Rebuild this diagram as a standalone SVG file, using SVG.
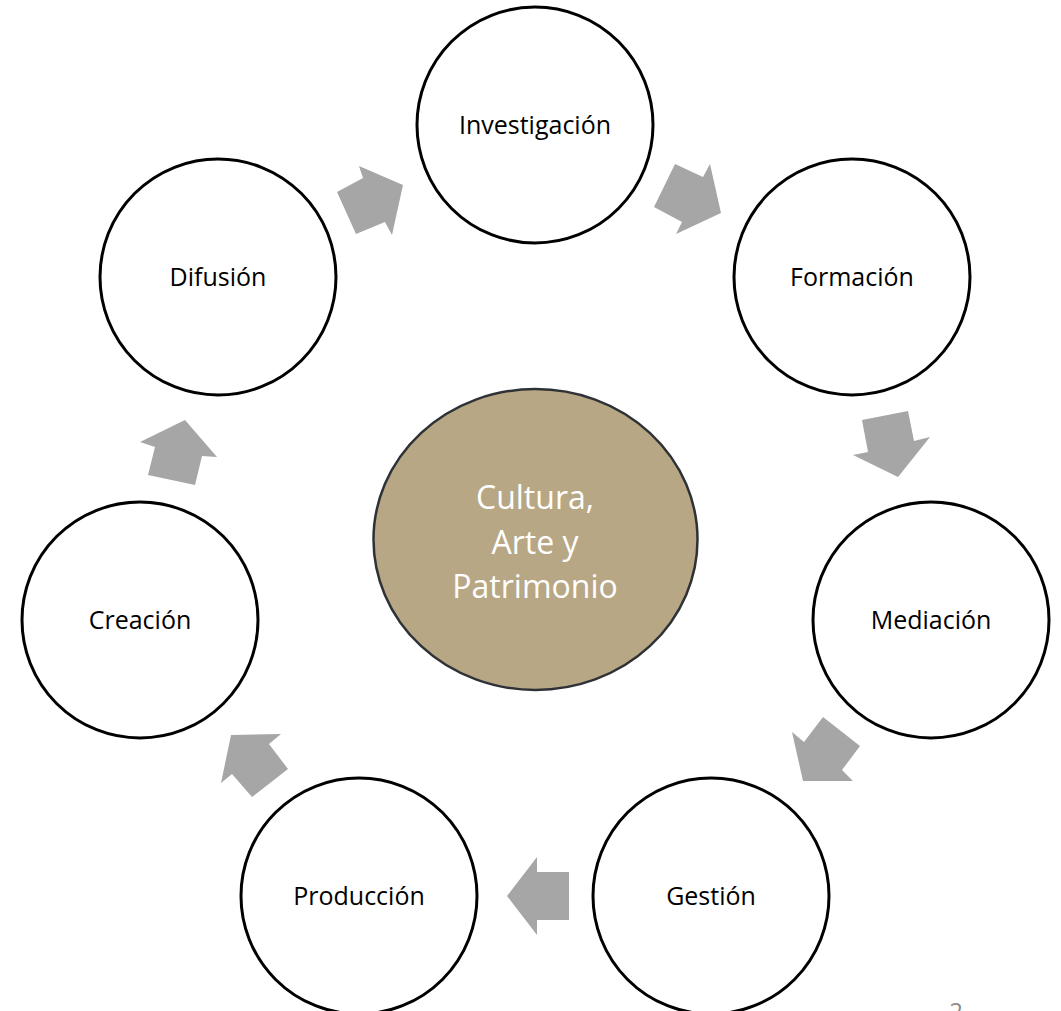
<svg xmlns="http://www.w3.org/2000/svg" width="1061" height="1011" viewBox="0 0 1061 1011">
<style>
.node{fill:#ffffff;stroke:#000000;stroke-width:3}
.lbl{font-family:"Open Sans","Liberation Sans",sans-serif;font-size:25px;fill:#000000;text-anchor:middle}
.arrow{fill:#a6a6a6;stroke:none}
.ctr{fill:#b8a784;stroke:#2e3236;stroke-width:2.5}
.ctrl{font-family:"Open Sans","Liberation Sans",sans-serif;font-size:32px;fill:#ffffff;text-anchor:middle}
</style>
<rect width="1061" height="1011" fill="#ffffff"/>
<g id="connectors">
<polygon class="arrow" points="403,185 392,235 385,222 356,234 337,192 363,178 359,166"/>
<polygon class="arrow" points="675,164 703,177 710,164 721,213 676,234 682,222 654,207"/>
<polygon class="arrow" points="862,420 908,411 914,441 930,437 898,477 853,455 868,452"/>
<polygon class="arrow" points="792,732 804,742 823,717 860,746 842,770 853,781 803,781"/>
<polygon class="arrow" points="569,872 569,920 537,920 537,935 507,896 537,857 537,872"/>
<polygon class="arrow" points="231,735 281,734 269,744 288,769 252,797 232,774 221,783"/>
<polygon class="arrow" points="140,442 185,420 217,457 202,456 195,485 148,475 155,447"/>
</g>
<g id="center">
<ellipse class="ctr" cx="535.5" cy="539.5" rx="162" ry="150.5"/>
<text class="ctrl" x="535" y="509">Cultura,</text>
<text class="ctrl" x="535" y="554">Arte y</text>
<text class="ctrl" x="535" y="598">Patrimonio</text>
</g>
<g id="investigacion">
<circle class="node" cx="535" cy="125" r="118"/>
<text class="lbl" x="535" y="134">Investigación</text>
</g>
<g id="formacion">
<circle class="node" cx="852" cy="277" r="118"/>
<text class="lbl" x="852" y="286">Formación</text>
</g>
<g id="mediacion">
<circle class="node" cx="931" cy="620" r="118"/>
<text class="lbl" x="931" y="629">Mediación</text>
</g>
<g id="gestion">
<circle class="node" cx="711" cy="896" r="118"/>
<text class="lbl" x="711" y="905">Gestión</text>
</g>
<g id="produccion">
<circle class="node" cx="359" cy="896" r="118"/>
<text class="lbl" x="359" y="905">Producción</text>
</g>
<g id="creacion">
<circle class="node" cx="140" cy="620" r="118"/>
<text class="lbl" x="140" y="629">Creación</text>
</g>
<g id="difusion">
<circle class="node" cx="218" cy="277" r="118"/>
<text class="lbl" x="218" y="286">Difusión</text>
</g>
<text x="956" y="1020" font-family="Open Sans, Liberation Sans, sans-serif" font-size="24" fill="#8c8c8c" text-anchor="middle">2</text>
</svg>
